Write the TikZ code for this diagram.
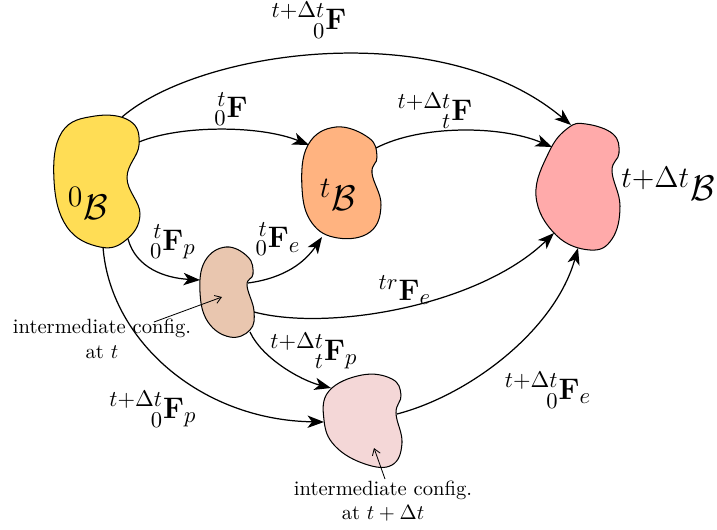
\documentclass[tikz,border=0pt]{standalone}
\usepackage{amsmath,mathtools}
\usetikzlibrary{arrows.meta}
\DeclareMathSizes{13.5}{13.5}{11}{8}
\DeclareMathSizes{17.28}{17.28}{14}{10}
\definecolor{cYel}{HTML}{FFDD55}
\definecolor{cOra}{HTML}{FFB380}
\definecolor{cPnk}{HTML}{FFAAAA}
\definecolor{cTan}{HTML}{E9C6AF}
\definecolor{cLpk}{HTML}{F4D7D7}
\begin{document}
\begin{tikzpicture}[x=0.485pt,y=-0.485pt,
  blob/.style={draw=black, line width=0.5pt},
  conn/.style={line width=0.6pt, -{Stealth[length=8pt,width=6pt,inset=2.2pt]}},
  pointer/.style={line width=0.4pt, -{Straight Barb[length=3pt,width=4pt]}},
  lbl/.style={inner sep=0pt, font=\fontsize{13.5}{16}\selectfont},
  blbl/.style={inner sep=0pt, font=\LARGE},
  cfg/.style={align=center, inner sep=0pt}
]
\useasboundingbox (0,0) rectangle (717,529);

% blobs
\draw[blob, fill=cYel] plot[smooth cycle, tension=0.7] coordinates {(95,116) (130,121) (139,145) (127,178) (140,214) (126,240) (100,247) (67,227) (54,180) (62,132)};
\draw[blob, fill=cOra] plot[smooth cycle, tension=0.7] coordinates {(336,127) (369,138) (377,157) (372,173) (381,205) (370,232) (338,238) (312,223) (302,188) (308,145)};
\draw[blob, fill=cPnk] plot[smooth cycle, tension=0.7] coordinates {(586,124) (613,134) (619,153) (612,171) (620,206) (612,239) (590,250) (556,235) (536,196) (549,152) (568,128)};
\draw[blob, fill=cTan] plot[smooth cycle, tension=0.7] coordinates {(226,247) (248,257) (253,274) (247,285) (254,311) (250,330) (230,337) (208,322) (200,292) (205,261)};
\draw[blob, fill=cLpk] plot[smooth cycle, tension=0.7] coordinates {(362,375) (392,379) (401,395) (396,413) (402,443) (392,465) (365,464) (335,446) (324,420) (329,391)};

% blob labels
\node[blbl] (B0) at (88,203) {$^{0}\mathcal{B}$};
\node[blbl] (Bt) at (338,195) {$^{t}\mathcal{B}$};
\node[blbl] (Btdt) at (668,184) {$^{t+\Delta t}\mathcal{B}$};

% connector end points
\coordinate (y1) at (122,117); \coordinate (p1) at (571,125);
\coordinate (y2) at (139,142); \coordinate (o1) at (309,145);
\coordinate (o2) at (376,148); \coordinate (p2) at (552,147);
\coordinate (y3) at (128,239); \coordinate (t1) at (200,280);
\coordinate (t2) at (248,283); \coordinate (o3) at (322,237);
\coordinate (t3) at (254,312); \coordinate (p3) at (554,233);
\coordinate (t4) at (250,332); \coordinate (l1) at (331,388);
\coordinate (y4) at (103,247); \coordinate (l2) at (324,422);
\coordinate (l3) at (397,414); \coordinate (p4) at (578,248);

% connectors
\draw[conn] (y1) .. controls (200,50) and (440,15) .. (p1);
\draw[conn] (y2) .. controls (180,125) and (260,125) .. (o1);
\draw[conn] (o2) .. controls (420,125) and (500,125) .. (p2);
\draw[conn] (y3) .. controls (136,268) and (165,278) .. (t1);
\draw[conn] (t2) .. controls (285,278) and (305,262) .. (o3);
\draw[conn] (t3) .. controls (330,332) and (480,305) .. (p3);
\draw[conn] (t4) .. controls (262,358) and (300,380) .. (l1);
\draw[conn] (y4) .. controls (110,340) and (200,420) .. (l2);
\draw[conn] (l3) .. controls (470,395) and (555,330) .. (p4);

% connector labels
\node[lbl] (LF0) at (309,20) {$\prescript{t+\Delta t}{0}{\mathbf{F}}$};
\node[lbl] (LFt) at (231,109) {$\prescript{t}{0}{\mathbf{F}}$};
\node[lbl] (LFdt) at (435,111) {$\prescript{t+\Delta t}{t}{\mathbf{F}}$};
\node[lbl] (LFp) at (173,242) {$\prescript{t}{0}{\mathbf{F}}_p$};
\node[lbl] (LFe) at (278,239) {$\prescript{t}{0}{\mathbf{F}}_e$};
\node[lbl] (LFtr) at (405,290) {$^{tr}\mathbf{F}_e$};
\node[lbl] (LFpdt) at (314,351) {$\prescript{t+\Delta t}{t}{\mathbf{F}}_p$};
\node[lbl] (LFp0) at (153,409) {$\prescript{t+\Delta t}{0}{\mathbf{F}}_p$};
\node[lbl] (LFe0) at (548,390) {$\prescript{t+\Delta t}{0}{\mathbf{F}}_e$};

% intermediate configuration texts
\node[cfg] (cfgA) at (102,339) {intermediate config.\\ at $t$};
\node[cfg] (cfgB) at (383,501) {intermediate config.\\ at $t+\Delta t$};
\coordinate (aS) at (154,322); \coordinate (aE) at (222,297);
\coordinate (bS) at (385,479); \coordinate (bE) at (374,448);
\draw[pointer] (aS) -- (aE);
\draw[pointer] (bS) -- (bE);
\end{tikzpicture}
\end{document}
